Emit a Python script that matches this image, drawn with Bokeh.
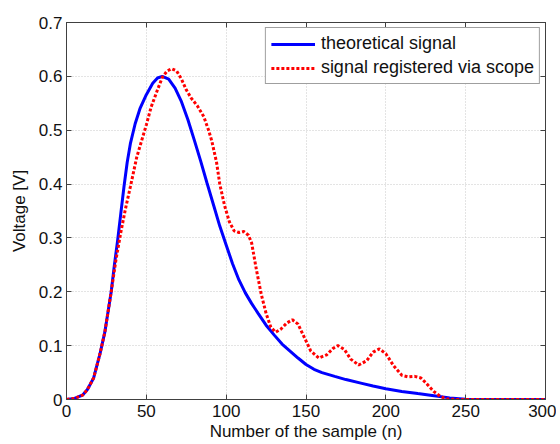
from bokeh.plotting import figure
from bokeh.models import (Range1d, LinearAxis, FixedTicker, CustomJSTickFormatter,
                          Legend, LegendItem)
from bokeh.embed import file_html
from bokeh.resources import INLINE

# theoretical signal
theo_n = [0, 5, 10, 13, 17, 21, 24, 28, 30, 32, 34, 36, 38, 40, 43, 46, 50, 54, 57, 60, 64,
          68, 72, 76, 80, 84, 88, 92, 96, 100, 104, 108, 112, 116, 120, 125, 130, 135, 140,
          145, 150, 155, 160, 168, 175, 185, 192, 200, 210, 220, 229, 240, 250, 260, 300]
theo_v = [0, 0.002, 0.008, 0.018, 0.04, 0.085, 0.125, 0.2, 0.25, 0.295, 0.345, 0.395, 0.44,
          0.475, 0.512, 0.54, 0.566, 0.587, 0.597, 0.6, 0.595, 0.578, 0.553, 0.52, 0.482,
          0.443, 0.402, 0.362, 0.322, 0.287, 0.252, 0.222, 0.198, 0.178, 0.16, 0.138, 0.12,
          0.103, 0.09, 0.077, 0.065, 0.056, 0.05, 0.043, 0.037, 0.03, 0.025, 0.02, 0.015,
          0.011, 0.0075, 0.003, 0.0005, 0, 0]

# signal registered via scope
scope_n = [0, 5, 10, 13, 17, 21, 24, 28, 31, 34, 37, 40, 44, 47, 50, 53, 57, 60, 63, 66, 69,
           72, 75, 78, 82, 86, 89, 91, 94, 96, 99, 102, 105, 108, 111, 114, 116, 119, 122,
           125, 128, 131, 134, 138, 141.5, 145, 149, 153, 158, 163, 167, 170, 174, 178, 183,
           188, 192, 196, 200, 205, 210, 214, 218, 222, 226, 230, 234, 238, 245, 300]
scope_v = [0, 0.002, 0.008, 0.018, 0.04, 0.085, 0.125, 0.2, 0.26, 0.31, 0.355, 0.395, 0.45,
           0.48, 0.51, 0.543, 0.575, 0.598, 0.61, 0.614, 0.61, 0.595, 0.575, 0.56, 0.545,
           0.525, 0.5, 0.48, 0.44, 0.4, 0.36, 0.33, 0.313, 0.31, 0.312, 0.305, 0.29, 0.24,
           0.195, 0.16, 0.134, 0.125, 0.13, 0.142, 0.148, 0.14, 0.115, 0.09, 0.077, 0.083,
           0.095, 0.1, 0.093, 0.075, 0.064, 0.072, 0.088, 0.094, 0.085, 0.062, 0.045, 0.042,
           0.043, 0.04, 0.028, 0.015, 0.006, 0.001, 0, 0]

x_ticks = [0, 50, 100, 150, 200, 250, 300]
y_ticks = [0, 0.1, 0.2, 0.3, 0.4, 0.5, 0.6, 0.7]
x_label = "Number of the sample (n)"
y_label = "Voltage [V]"
names = ["theoretical signal", "signal registered via scope"]

FONT = "Liberation Sans"

p = figure(width=556, height=444, output_backend="svg", toolbar_location=None,
           x_range=Range1d(0, 300), y_range=Range1d(0, 0.7),
           min_border_left=66, min_border_right=11, min_border_top=22, min_border_bottom=45)
p.xaxis.visible = False
p.yaxis.visible = False

def style_axis(ax):
    ax.major_tick_in = 5
    ax.major_tick_out = 0
    ax.minor_tick_line_color = None
    ax.axis_line_color = "#404040"
    ax.major_tick_line_color = "#404040"
    ax.major_label_text_font = FONT
    ax.major_label_text_font_size = "17px"
    ax.major_label_text_color = "#111111"
    ax.axis_label_text_font = FONT
    ax.axis_label_text_font_size = "17px"
    ax.axis_label_text_font_style = "normal"
    ax.axis_label_text_color = "#111111"

xt = FixedTicker(ticks=x_ticks)
yt = FixedTicker(ticks=y_ticks)
yfmt = CustomJSTickFormatter(code="return tick < 1e-9 ? '0' : tick.toFixed(1);")
blank = CustomJSTickFormatter(code="return '';")

xb = LinearAxis(ticker=xt, axis_label=x_label)
style_axis(xb)
xb.major_label_standoff = 5
xb.axis_label_standoff = 2
p.add_layout(xb, "below")

yl = LinearAxis(ticker=yt, formatter=yfmt, axis_label=y_label)
style_axis(yl)
yl.major_label_standoff = 4
yl.axis_label_standoff = 7
p.add_layout(yl, "left")

xa = LinearAxis(ticker=xt, formatter=blank)
style_axis(xa)
xa.major_label_standoff = 0
p.add_layout(xa, "above")

yr = LinearAxis(ticker=yt, formatter=blank)
style_axis(yr)
yr.major_label_standoff = 0
p.add_layout(yr, "right")

p.xgrid.ticker = xt
p.ygrid.ticker = yt
for g in (p.xgrid, p.ygrid):
    g.grid_line_color = "#c8c8c8"
    g.grid_line_dash = "1 2"
    g.grid_line_width = 1

p.outline_line_color = "#404040"
p.background_fill_color = "white"
p.border_fill_color = "white"

r1 = p.line(theo_n, theo_v, line_color="#0000ff", line_width=3)
r2 = p.line(scope_n, scope_v, line_color="#ff0000", line_width=3, line_dash="3 2")

legend = Legend(items=[LegendItem(label=names[0], renderers=[r1]),
                       LegendItem(label=names[1], renderers=[r2])],
                location="top_right")
legend.margin = 5
legend.padding = 5
legend.spacing = 3
legend.glyph_width = 44
legend.glyph_height = 20
legend.label_height = 20
legend.label_standoff = 6
legend.label_text_font = FONT
legend.label_text_font_size = "18px"
legend.label_text_color = "#111111"
legend.border_line_color = "#404040"
legend.border_line_width = 1
legend.background_fill_alpha = 1
p.add_layout(legend, "center")

open("out.html", "w").write(file_html(p, INLINE))
